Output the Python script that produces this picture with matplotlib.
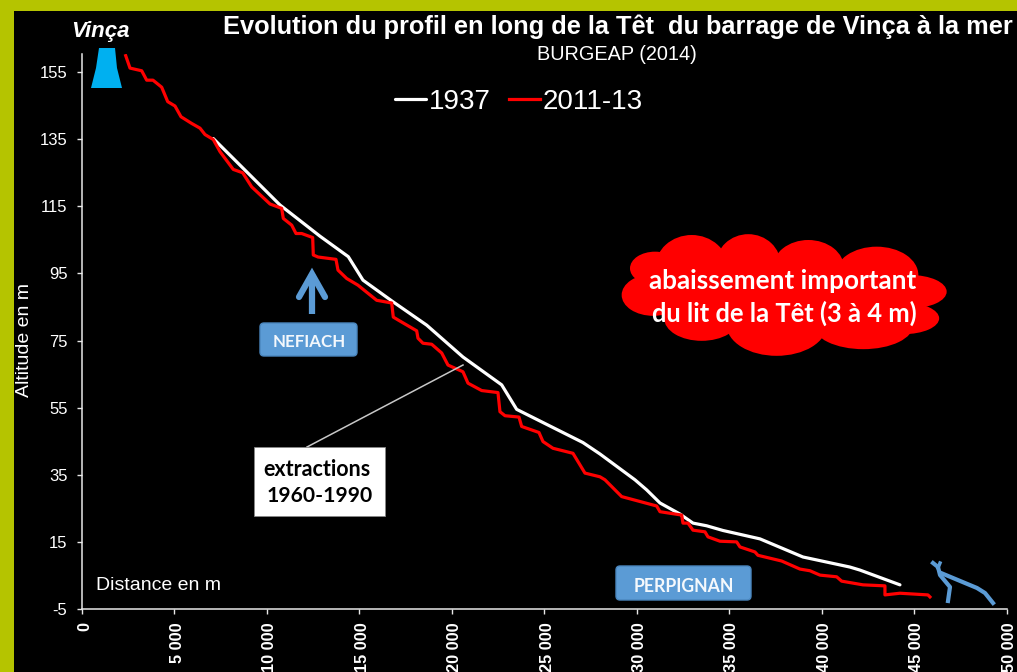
import matplotlib
matplotlib.use("Agg")
import matplotlib.pyplot as plt
from matplotlib.patches import Rectangle, Polygon, Ellipse, FancyBboxPatch
from matplotlib.ticker import FuncFormatter
from matplotlib.transforms import ScaledTranslation

x_2011 = [2363,2596,3229,3499,3840,4310,4635,5029,5354,5933,6381,6652,7101,7463,8182,8691,9177,10167,
          10800,10886,11341,11573,11881,12476,12509,12763,13736,13844,14315,14926,15937,16749,16835,17106,
          18101,18171,18441,18912,19453,19793,20604,20875,21616,22497,22605,22876,23633,23779,24715,24931,
          25472,26553,27202,28013,28284,29187,29998,31080,31258,32432,32502,32772,33043,33692,33854,34503,
          35406,35585,36396,36558,37840,38829,39370,39911,40814,41084,42236,43426,43426,44237,45751,45860]
y_2011 = [159.9,156.2,155.4,152.6,152.6,150.5,146.2,144.9,141.7,139.7,138.3,136.4,134.9,131.3,126.0,125.0,120.8,115.7,
          114.4,111.4,109.4,106.9,106.9,105.7,100.5,99.9,99.2,96.0,93.5,91.5,87.0,86.2,82.0,81.1,
          77.9,75.7,74.2,73.9,71.3,67.7,65.7,62.3,60.1,59.5,53.8,52.6,52.2,49.4,47.6,44.9,
          42.9,41.4,35.5,34.4,33.5,28.5,27.3,25.7,24.0,23.0,20.6,20.6,18.5,18.0,16.5,15.2,
          15.0,13.5,12.0,11.0,9.3,6.9,6.4,5.1,4.6,3.3,2.2,1.9,-0.8,-0.3,-0.8,-1.4]
x_1937 = [7101,8723,10708,12871,14402,15196,16835,18641,20604,22697,23508,27094,28013,29906,30539,31258,
          32340,33043,33784,34666,36666,38991,41533,42074,44237]
y_1937 = [135.2,126.3,115.4,106.1,100.0,93.0,86.5,79.6,70.1,61.8,54.5,44.6,41.2,33.5,30.5,26.6,
          23.3,20.6,19.8,18.4,15.9,10.5,7.5,6.6,2.2]
y_ticks = [-5,15,35,55,75,95,115,135,155]
x_ticks = [0,5000,10000,15000,20000,25000,30000,35000,40000,45000,50000]

W, H = 1017, 672
SANS = "Liberation Sans"
CAL = "Lato"
OLIVE = "#B5C400"
BLUE = "#5B9BD5"
fig = plt.figure(figsize=(W/100, H/100), dpi=100, facecolor="black")
ax = fig.add_axes([82/W, 1-609/H, (1006.5-82)/W, (609-54)/H], facecolor="black")
ax.plot(x_1937, y_1937, color="white", lw=2.3, label="1937", solid_capstyle="round", zorder=3)
ax.plot(x_2011, y_2011, color="#FF0000", lw=2.3, label="2011-13", zorder=4)
ax.set_xlim(0, 50000)
ax.set_ylim(-5, 160.4)
ax.set_xticks(x_ticks)
ax.set_yticks(y_ticks)
ax.xaxis.set_major_formatter(FuncFormatter(lambda v, p: f"{int(v):,}".replace(",", " ")))
ax.yaxis.set_major_formatter(FuncFormatter(lambda v, p: f"{int(v)}"))
for s in ("top", "right"):
    ax.spines[s].set_visible(False)
for s in ("left", "bottom"):
    ax.spines[s].set_color("#E8E8E8")
    ax.spines[s].set_linewidth(1.1)
ax.tick_params(axis="both", color="#E8E8E8", length=3.5, width=1)
ax.tick_params(axis="y", labelcolor="white", labelsize=12, pad=7)
ax.tick_params(axis="x", labelcolor="white", labelsize=11.8, pad=6)
for t in ax.get_yticklabels():
    t.set_family(SANS)
shift = ScaledTranslation(2/72, 0, fig.dpi_scale_trans)
for t in ax.get_xticklabels():
    t.set_family(SANS); t.set_rotation(90); t.set_fontweight("bold"); t.set_va("top")
    t.set_transform(t.get_transform() + shift)

ax.legend(loc="center", bbox_to_anchor=((519-82)/924.5, (609-102)/555), ncols=2, frameon=False,
          prop={"family": SANS, "size": 20}, labelcolor="white", handlelength=1.12,
          handletextpad=0.1, columnspacing=0.65, borderpad=0)

ov = fig.add_axes([0, 0, 1, 1], facecolor="none")
ov.set_xlim(0, W); ov.set_ylim(H, 0); ov.axis("off")
ov.add_patch(Rectangle((0, 0), W, 11, color=OLIVE, lw=0))
ov.add_patch(Rectangle((0, 0), 14, H, color=OLIVE, lw=0))

ov.text(618, 27, "Evolution du profil en long de la Têt  du barrage de Vinça à la mer", family=SANS,
        weight="bold", size=18.3, color="white", ha="center", va="center")
ov.text(617, 54, "BURGEAP (2014)", family=SANS, size=14.3, color="white", ha="center", va="center")
ov.text(100, 31, "Vinça", family=SANS, weight="bold", style="italic", size=16, color="white", ha="center", va="center")
ov.text(25, 340, "Altitude en m", family=SANS, size=14, color="white", rotation=90, ha="center", va="center")
ov.text(96, 586, "Distance en m", family=SANS, size=14, color="white", ha="left", va="center")

# dam
ov.add_patch(Polygon([(99, 48), (115, 48), (117, 68), (122, 88), (91, 88), (96, 68)], closed=True, color="#00B0F0", lw=0))

# Nefiach
ov.add_patch(FancyBboxPatch((260, 323), 97, 33, boxstyle="round,pad=0,rounding_size=4", fc=BLUE, ec="#4A86BE", lw=1))
ov.text(309, 342, "NEFIACH", family=CAL, weight="bold", size=12.2, color="#F4F8FC", ha="center", va="center")
ov.plot([312, 312], [314, 274], color=BLUE, lw=4.5, solid_capstyle="butt")
ov.plot([299, 312, 325], [297, 274, 297], color=BLUE, lw=4.5, solid_capstyle="round", solid_joinstyle="miter")

# Perpignan
ov.add_patch(FancyBboxPatch((616, 566), 135, 34, boxstyle="round,pad=0,rounding_size=4", fc=BLUE, ec="#4A86BE", lw=1))
ov.text(684, 586, "PERPIGNAN", family=CAL, weight="bold", size=12.7, color="#F4F8FC", ha="center", va="center")

# extractions
ov.plot([307, 463], [447, 365], color="#C8C8C8", lw=1.1, zorder=5)
ov.add_patch(Rectangle((254, 447), 131, 69, fc="white", ec="#888888", lw=0.6, zorder=6))
ov.text(317, 469, "extractions", family=CAL, weight="bold", size=15.5, color="black", ha="center", va="center", zorder=7)
ov.text(320, 496, "1960-1990", family=CAL, weight="bold", size=15.2, color="black", ha="center", va="center", zorder=7)

# cloud lobes, measured on the 3x crop whose origin is (610, 225)
lobes = [(135, 130, 150, 100), (130, 210, 190, 125), (245, 130, 220, 200), (415, 120, 195, 185),
         (595, 130, 215, 170), (800, 150, 250, 170), (900, 200, 220, 100), (880, 280, 215, 95),
         (275, 280, 225, 135), (500, 300, 300, 185), (760, 300, 300, 145), (520, 200, 800, 210)]
for (cx, cy, w, h) in lobes:
    ov.add_patch(Ellipse((610 + cx/3, 225 + cy/3), w/3, h/3, color="#FF0000", lw=0))
ov.text(783, 281, "abaissement important", family=CAL, weight="bold", size=18.8, color="white", ha="center", va="center")
ov.text(784, 313, "du lit de la Têt (3 à 4 m)", family=CAL, weight="bold", size=18.4, color="white", ha="center", va="center")

# river mouth
ov.plot([933, 938, 940, 950, 948], [563, 567, 575, 587, 601], color=BLUE, lw=3)
ov.plot([941, 953, 977, 985, 993], [573, 578, 588, 593, 603], color=BLUE, lw=3)
ov.plot([940, 938], [563, 568], color=BLUE, lw=2.5)

fig.savefig("out.png", dpi=100, facecolor="black")
